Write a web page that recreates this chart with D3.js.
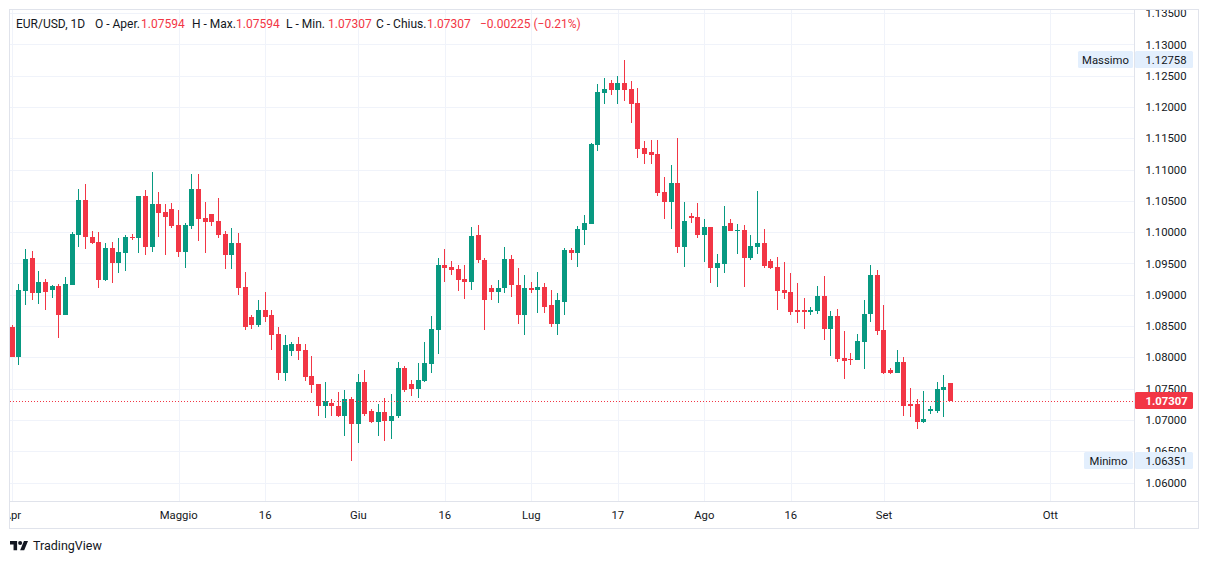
<!DOCTYPE html>
<html><head><meta charset="utf-8">
<script src="https://cdn.jsdelivr.net/npm/d3@7"></script>
<style>
html,body{margin:0;padding:0;background:#fff;}
svg{display:block;font-family:Roboto,"Liberation Sans",sans-serif;}
</style></head>
<body>
<svg id="chart" width="1209" height="564"></svg>
<script>
// ---------------- DATA ----------------
const dates = [
"2023-04-02","2023-04-03","2023-04-04","2023-04-05","2023-04-06","2023-04-07","2023-04-09","2023-04-10","2023-04-11","2023-04-12","2023-04-13","2023-04-14","2023-04-16","2023-04-17","2023-04-18","2023-04-19","2023-04-20","2023-04-21","2023-04-23","2023-04-24","2023-04-25","2023-04-26","2023-04-27","2023-04-28","2023-04-30",
"2023-05-01","2023-05-02","2023-05-03","2023-05-04","2023-05-05","2023-05-07","2023-05-08","2023-05-09","2023-05-10","2023-05-11","2023-05-12","2023-05-14","2023-05-15","2023-05-16","2023-05-17","2023-05-18","2023-05-19","2023-05-21","2023-05-22","2023-05-23","2023-05-24","2023-05-25","2023-05-26","2023-05-28","2023-05-29","2023-05-30","2023-05-31",
"2023-06-01","2023-06-02","2023-06-04","2023-06-05","2023-06-06","2023-06-07","2023-06-08","2023-06-09","2023-06-11","2023-06-12","2023-06-13","2023-06-14","2023-06-15","2023-06-16","2023-06-18","2023-06-19","2023-06-20","2023-06-21","2023-06-22","2023-06-23","2023-06-25","2023-06-26","2023-06-27","2023-06-28","2023-06-29","2023-06-30",
"2023-07-02","2023-07-03","2023-07-04","2023-07-05","2023-07-06","2023-07-07","2023-07-09","2023-07-10","2023-07-11","2023-07-12","2023-07-13","2023-07-14","2023-07-16","2023-07-17","2023-07-18","2023-07-19","2023-07-20","2023-07-21","2023-07-23","2023-07-24","2023-07-25","2023-07-26","2023-07-27","2023-07-28","2023-07-30","2023-07-31",
"2023-08-01","2023-08-02","2023-08-03","2023-08-04","2023-08-06","2023-08-07","2023-08-08","2023-08-09","2023-08-10","2023-08-11","2023-08-13","2023-08-14","2023-08-15","2023-08-16","2023-08-17","2023-08-18","2023-08-20","2023-08-21","2023-08-22","2023-08-23","2023-08-24","2023-08-25","2023-08-27","2023-08-28","2023-08-29","2023-08-30","2023-08-31",
"2023-09-01","2023-09-03","2023-09-04","2023-09-05","2023-09-06","2023-09-07","2023-09-08","2023-09-10","2023-09-11","2023-09-12","2023-09-13"
];
const open = [
1.0849,1.0801,1.0906,1.0959,1.0902,1.0920,1.0907,1.0914,1.0868,1.0915,1.0995,1.1051,1.0992,1.0984,1.0924,1.0974,1.0951,1.0967,1.0993,1.0990,1.1057,1.0976,1.1045,1.1032,1.1037,
1.1011,1.0968,1.1010,1.1069,1.1022,1.1029,1.1018,1.0997,1.0963,1.0982,1.0912,1.0864,1.0852,1.0875,1.0867,1.0838,1.0775,1.0810,1.0822,1.0811,1.0770,1.0757,1.0723,1.0727,1.0723,1.0706,1.0733,
1.0693,1.0761,1.0714,1.0696,1.0712,1.0698,1.0706,1.0783,1.0757,1.0749,1.0762,1.0789,1.0843,1.0947,1.0944,1.0941,1.0925,1.0920,1.0996,1.0955,1.0910,1.0905,1.0910,1.0957,1.0916,1.0867,
1.0910,1.0907,1.0913,1.0883,1.0854,1.0889,1.0971,1.0966,1.1004,1.1013,1.1140,1.1223,1.1239,1.1227,1.1239,1.1229,1.1207,1.1135,1.1128,1.1125,1.1064,1.1048,1.1079,1.0976,1.1026,1.1024,
1.0996,1.1008,1.0943,1.0949,1.1015,1.1002,1.1004,1.0959,1.0977,1.0983,1.0954,1.0944,1.0908,1.0904,1.0875,1.0875,1.0872,1.0874,1.0898,1.0845,1.0866,1.0799,1.0798,1.0796,1.0825,1.0869,1.0931,
1.0843,1.0780,1.0775,1.0792,1.0725,1.0725,1.0696,1.0715,1.0715,1.0747,1.07594
];
const high = [
1.0851,1.0917,1.0973,1.0970,1.0938,1.0925,1.0915,1.0917,1.0928,1.1000,1.1069,1.1077,1.1002,1.1000,1.0982,1.0984,1.0990,1.0995,1.0997,1.1058,1.1067,1.1096,1.1064,1.1045,1.1046,
1.1035,1.1014,1.1093,1.1093,1.1048,1.1029,1.1054,1.1002,1.1006,1.0998,1.0936,1.0868,1.0892,1.0905,1.0875,1.0849,1.0836,1.0825,1.0832,1.0822,1.0802,1.0757,1.0760,1.0733,1.0744,1.0747,1.0736,
1.0774,1.0780,1.0717,1.0725,1.0735,1.0741,1.0792,1.0786,1.0763,1.0791,1.0824,1.0866,1.0959,1.0973,1.0954,1.0947,1.0947,1.1008,1.1012,1.0958,1.0916,1.0923,1.0976,1.0963,1.0942,1.0932,
1.0921,1.0937,1.0918,1.0908,1.0902,1.0974,1.0975,1.1010,1.1028,1.1142,1.1237,1.1247,1.1243,1.1250,1.12758,1.1242,1.1231,1.1146,1.1148,1.1148,1.1088,1.1108,1.1151,1.1048,1.1031,1.1047,
1.1021,1.1008,1.0965,1.1042,1.1021,1.1013,1.1012,1.0996,1.1066,1.1005,1.0957,1.0960,1.0952,1.0935,1.0919,1.0895,1.0880,1.0914,1.0930,1.0874,1.0877,1.0842,1.0807,1.0837,1.0892,1.0947,1.0940,
1.0883,1.0783,1.0811,1.0800,1.0751,1.0733,1.0746,1.0722,1.0760,1.0772,1.07594
];
const low = [
1.0800,1.0788,1.0884,1.0892,1.0886,1.0876,1.0895,1.0831,1.0868,1.0915,1.0976,1.0973,1.0981,1.0910,1.0922,1.0918,1.0934,1.0938,1.0987,1.0966,1.0963,1.0968,1.0992,1.0963,1.1006,
1.0960,1.0943,1.1005,1.0986,1.0967,1.1010,1.0990,1.0941,1.0941,1.0900,1.0843,1.0846,1.0849,1.0856,1.0811,1.0763,1.0762,1.0802,1.0796,1.0762,1.0743,1.0706,1.0703,1.0707,1.0704,1.0674,1.06351,
1.0663,1.0706,1.0695,1.0675,1.0667,1.0669,1.0703,1.0744,1.0738,1.0735,1.0760,1.0775,1.0805,1.0920,1.0931,1.0906,1.0893,1.0907,1.0950,1.0844,1.0892,1.0887,1.0903,1.0897,1.0854,1.0836,
1.0902,1.0871,1.0871,1.0849,1.0835,1.0868,1.0956,1.0945,1.0979,1.1013,1.1130,1.1205,1.1219,1.1205,1.1210,1.1175,1.1119,1.1109,1.1109,1.1058,1.1021,1.1005,1.0967,1.0944,1.1015,1.0991,
1.0952,1.0919,1.0912,1.0935,1.1002,1.0965,1.0913,1.0956,1.0965,1.0943,1.0941,1.0876,1.0893,1.0868,1.0855,1.0845,1.0868,1.0869,1.0828,1.0802,1.0793,1.0765,1.0788,1.0796,1.0781,1.0856,1.0835,
1.0773,1.0774,1.0775,1.0707,1.0704,1.0685,1.0695,1.0709,1.0711,1.0705,1.07307
];
const close = [
1.0801,1.0907,1.0957,1.0902,1.0920,1.0905,1.0914,1.0868,1.0917,1.0997,1.1051,1.0992,1.0982,1.0924,1.0974,1.0951,1.0968,1.0992,1.0991,1.1057,1.0976,1.1045,1.1030,1.1024,1.1010,
1.0968,1.1011,1.1069,1.1021,1.1016,1.1016,1.0995,1.0963,1.0982,1.0911,1.0849,1.0852,1.0875,1.0865,1.0836,1.0775,1.0819,1.0822,1.0810,1.0768,1.0755,1.0723,1.0730,1.0722,1.0706,1.0733,1.0693,
1.0761,1.0709,1.0696,1.0712,1.0698,1.0707,1.0783,1.0747,1.0749,1.0763,1.0791,1.0845,1.0947,1.0943,1.0939,1.0923,1.0920,1.0994,1.0955,1.0892,1.0905,1.0911,1.0957,1.0915,1.0867,1.0911,
1.0907,1.0913,1.0881,1.0854,1.0891,1.0971,1.0966,1.1005,1.1015,1.1141,1.1224,1.1229,1.1227,1.1239,1.1227,1.1205,1.1133,1.1125,1.1124,1.1063,1.1048,1.1079,1.0976,1.1018,1.1023,1.0996,
1.1008,1.0943,1.0951,1.1010,1.1002,1.1004,1.0959,1.0978,1.0983,1.0946,1.0943,1.0906,1.0903,1.0872,1.0873,1.0873,1.0876,1.0898,1.0845,1.0866,1.0797,1.0794,1.0796,1.0826,1.0869,1.0931,1.0842,
1.0775,1.0775,1.0792,1.0723,1.0723,1.0696,1.0701,1.0717,1.0749,1.0753,1.07307
];
const priceTicks = [1.060,1.065,1.070,1.075,1.080,1.085,1.090,1.095,1.100,1.105,1.110,1.115,1.120,1.125,1.130,1.135];
const tickDates = ["2023-04-02","2023-05-01","2023-05-16","2023-06-01","2023-06-16","2023-07-02","2023-07-17","2023-08-01","2023-08-16","2023-09-01","2023-10-01"];
const tickLabels = ["Apr","Maggio","16","Giu","16","Lug","17","Ago","16","Set","Ott"];
const legendParts = ["EUR/USD, 1D","O - Aper.","1.07594","H - Max.","1.07594","L - Min.","1.07307","C - Chius.","1.07307","\u22120.00225 (\u22120.21%)"];
const highestValue = 1.12758, lowestValue = 1.06351, lastValue = 1.07307;
const highestLabel = "Massimo", lowestLabel = "Minimo";

// ---------------- LAYOUT ----------------
const UP = "#089981", DOWN = "#f23645", TXT = "#131722", GRID = "#f0f3fa", BORDER = "#e0e3eb";
const paneL = 10, paneR = 1134, paneT = 10, paneB = 501, frameR = 1198, frameB = 528;

const svg = d3.select("#chart");
svg.append("rect").attr("width",1209).attr("height",564).attr("fill","#fff");

const fmt = d3.timeFormat("%Y-%m-%d");
const domainDays = d3.timeDay.range(new Date(2023,3,2), new Date(2023,9,2))
  .filter(d => d.getDay() !== 6).map(fmt);
const step = 6.654;
const x = d3.scaleBand().domain(domainDays)
  .range([12.3 - step/2, 12.3 - step/2 + step*domainDays.length]).padding(0);
const cx = d => x(d) + x.bandwidth()/2;
const y = d3.scaleLinear().domain([1.06, 1.13]).range([482.5, 44.4]);

const defs = svg.append("defs");
defs.append("clipPath").attr("id","pane").append("rect")
  .attr("x",paneL).attr("y",paneT).attr("width",paneR-paneL).attr("height",paneB-paneT);
defs.append("clipPath").attr("id","paxis").append("rect")
  .attr("x",paneR+1).attr("y",paneT).attr("width",frameR-paneR-1).attr("height",paneB-paneT);
defs.append("clipPath").attr("id","taxis").append("rect")
  .attr("x",paneL).attr("y",paneB).attr("width",paneR-paneL).attr("height",frameB-paneB);

// grid
const grid = svg.append("g").attr("clip-path","url(#pane)");
grid.selectAll("line.h").data(priceTicks).join("line").attr("class","h")
  .attr("x1",paneL).attr("x2",paneR)
  .attr("y1",d=>Math.round(y(d))+0.5).attr("y2",d=>Math.round(y(d))+0.5)
  .attr("stroke",GRID).attr("stroke-width",1);
grid.selectAll("line.v").data(tickDates).join("line").attr("class","v")
  .attr("x1",d=>Math.round(cx(d))+0.5).attr("x2",d=>Math.round(cx(d))+0.5)
  .attr("y1",paneT).attr("y2",paneB)
  .attr("stroke",GRID).attr("stroke-width",1);

// candles
const candles = dates.map((d,i)=>({d, o:open[i], h:high[i], l:low[i], c:close[i]}));
const cg = svg.append("g").attr("clip-path","url(#pane)");
const bodyW = 5;
const g = cg.selectAll("g").data(candles).join("g")
  .attr("fill", d => d.c >= d.o ? UP : DOWN);
g.append("rect")
  .attr("x", d => Math.round(cx(d.d) - bodyW/2) + 2)
  .attr("width", 1)
  .attr("y", d => Math.round(y(d.h)))
  .attr("height", d => Math.max(1, Math.round(y(d.l)) - Math.round(y(d.h))));
g.append("rect")
  .attr("x", d => Math.round(cx(d.d) - bodyW/2))
  .attr("width", bodyW)
  .attr("y", d => Math.round(y(Math.max(d.o,d.c))))
  .attr("height", d => Math.max(1, Math.round(y(Math.min(d.o,d.c))) - Math.round(y(Math.max(d.o,d.c)))));

// last price dotted line
svg.append("line").attr("x1",paneL).attr("x2",paneR)
  .attr("y1",Math.round(y(lastValue))+0.5).attr("y2",Math.round(y(lastValue))+0.5)
  .attr("stroke",DOWN).attr("stroke-width",1).attr("stroke-dasharray","1,2");

// frame and separators
svg.append("rect").attr("x",9.5).attr("y",9.5).attr("width",frameR-9).attr("height",frameB-9)
  .attr("fill","none").attr("stroke",BORDER);
svg.append("line").attr("x1",paneR+0.5).attr("x2",paneR+0.5).attr("y1",9.5).attr("y2",frameB+0.5).attr("stroke",BORDER);
svg.append("line").attr("x1",9.5).attr("x2",frameR+0.5).attr("y1",paneB+0.5).attr("y2",paneB+0.5).attr("stroke",BORDER);

// price axis
const pa = svg.append("g").attr("clip-path","url(#paxis)")
  .append("g").attr("transform",`translate(1145.5,0)`)
  .call(d3.axisRight(y).tickValues(priceTicks).tickFormat(d3.format(".5f")).tickSize(0).tickPadding(0));
pa.select(".domain").remove();
pa.selectAll("text").attr("fill",TXT).attr("font-size","11.3px").attr("font-family","Roboto, sans-serif");

// time axis
const ta = svg.append("g").attr("clip-path","url(#taxis)")
  .append("g").attr("transform",`translate(0,${paneB})`)
  .call(d3.axisBottom(x).tickValues(tickDates.filter(d=>domainDays.includes(d)))
     .tickFormat(d => tickLabels[tickDates.indexOf(d)]).tickSize(0).tickPadding(10));
ta.select(".domain").remove();
ta.selectAll("text").attr("fill",TXT).attr("font-size","11.3px").attr("font-family","Roboto, sans-serif");

// price labels (Massimo / Minimo / last)
function priceTag(val, label, bg, fg, bold, labelLeft){
  const yc = y(val);
  const top = Math.round(yc - 8.5);
  if (label){
    svg.append("rect").attr("x",labelLeft).attr("y",top).attr("width",paneR-1-labelLeft).attr("height",17)
      .attr("fill",bg).attr("rx",1.5);
    svg.append("text").attr("x",(labelLeft+paneR-1)/2).attr("y",top+12.5).attr("text-anchor","middle")
      .attr("font-size","11.3px").attr("fill",fg).text(label);
  }
  svg.append("rect").attr("x",paneR+1).attr("y",top).attr("width",58).attr("height",17)
    .attr("fill",bg).attr("rx",1.5);
  svg.append("text").attr("x",1145.5).attr("y",top+12.5)
    .attr("font-size","11.3px").attr("font-weight",bold?"bold":"normal").attr("fill",fg)
    .text(d3.format(".5f")(val));
}
priceTag(highestValue, highestLabel, "#e3effd", TXT, false, 1078);
priceTag(lowestValue, lowestLabel, "#e3effd", TXT, false, 1084);
priceTag(lastValue, null, DOWN, "#fff", true, 0);

// legend
const legendX = [16, 95, 141, 192, 236, 286, 328, 376, 427, 480];
const legendC = [TXT,TXT,DOWN,TXT,DOWN,TXT,DOWN,TXT,DOWN,DOWN];
svg.append("g").selectAll("text").data(legendParts).join("text")
  .attr("x",(d,i)=>legendX[i]).attr("y",27.5)
  .attr("font-size","12px").attr("fill",(d,i)=>legendC[i]).text(d=>d);

// TradingView logo
const logo = svg.append("g").attr("transform","translate(10,539) scale(0.507)").attr("fill",TXT);
logo.append("path").attr("d","M14 22H7V11H0V4h14v18zM28 22h-8l7.5-18h8L28 22z");
logo.append("circle").attr("cx",20).attr("cy",8).attr("r",4);
svg.append("text").attr("x",33).attr("y",550).attr("font-size","12.5px").attr("fill",TXT).text("TradingView");
</script>
</body></html>
